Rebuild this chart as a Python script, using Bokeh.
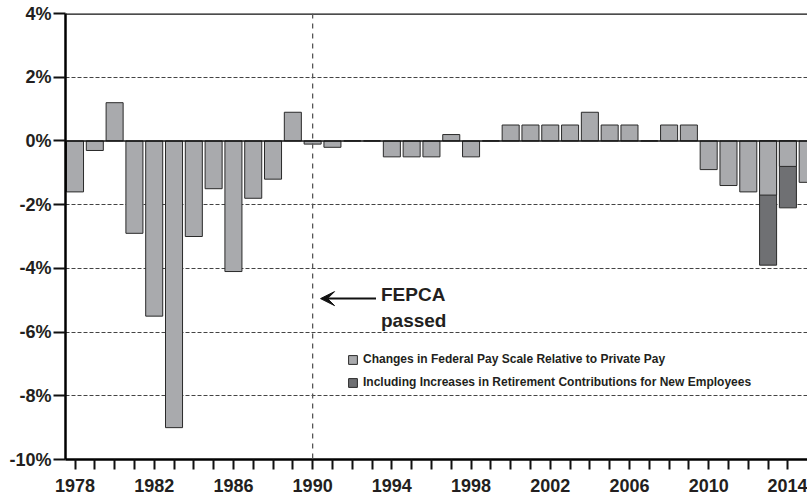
from bokeh.plotting import figure
from bokeh.models import FixedTicker, Span, Arrow, VeeHead, Legend, LegendItem, ColumnDataSource
from bokeh.core.properties import value
from bokeh.embed import file_html
from bokeh.resources import INLINE

# ---- data ----
years = list(range(1978, 2016))
pay_change = [-1.6, -0.3, 1.2, -2.9, -5.5, -9.0, -3.0, -1.5, -4.1, -1.8,
              -1.2, 0.9, -0.1, -0.2, 0.0, 0.0, -0.5, -0.5, -0.5, 0.2,
              -0.5, 0.0, 0.5, 0.5, 0.5, 0.5, 0.9, 0.5, 0.5, 0.0,
              0.5, 0.5, -0.9, -1.4, -1.6, -1.7, -0.8, -1.3]
retire_years = [2013, 2014]
retire_change = [-3.9, -2.1]

y_ticks = [4, 2, 0, -2, -4, -6, -8, -10]
y_tick_labels = ["4%", "2%", "0%", "-2%", "-4%", "-6%", "-8%", "-10%"]
x_label_years = list(range(1978, 2016, 4))

label_light = "Changes in Federal Pay Scale Relative to Private Pay"
label_dark = "Including Increases in Retirement Contributions for New Employees"

fepca_year = 1990
note_lines = ["FEPCA", "passed"]

FONT = "Liberation Sans"
TXT = "#231f20"
LIGHT = "#a9aaad"
DARK = "#6f7073"

p = figure(width=807, height=497, output_backend="svg", toolbar_location=None,
           x_range=(1977.52, 2014.99), y_range=(-10, 4),
           min_border_left=65, min_border_right=0, min_border_top=13, min_border_bottom=38)
p.outline_line_color = None
p.background_fill_color = "white"

# grid
p.xgrid.grid_line_color = None
p.ygrid.ticker = FixedTicker(ticks=[t for t in y_ticks if t not in (0, 4)])
p.ygrid.grid_line_color = "#444444"
p.ygrid.grid_line_dash = "4 2"
p.ygrid.grid_line_width = 1

# bars
dark_src = ColumnDataSource(dict(x=retire_years, top=retire_change))
dark = p.vbar(x="x", top="top", bottom=0, width=0.86, source=dark_src,
              fill_color=DARK, line_color="#2a2a2a", line_width=1)
light_src = ColumnDataSource(dict(x=years, top=pay_change))
light = p.vbar(x="x", top="top", bottom=0, width=0.86, source=light_src,
               fill_color=LIGHT, line_color="#2a2a2a", line_width=1)

# zero line, top border, FEPCA line
p.add_layout(Span(location=0, dimension="width", line_color="#111111", line_width=1.5))
p.add_layout(Span(location=4, dimension="width", line_color="#111111", line_width=2.5))
p.add_layout(Span(location=fepca_year, dimension="height", line_color="#555555",
                  line_width=1.3, line_dash="5 5"))

# annotation
p.text(x=[1993.45, 1993.45], y=[-4.81, -5.64], text=note_lines,
       text_font=value(FONT), text_font_style="bold", text_font_size="19px",
       text_color=TXT, text_align="left", text_baseline="alphabetic")
p.add_layout(Arrow(end=VeeHead(size=14, fill_color="#111111", line_color="#111111"),
                   x_start=1993.2, y_start=-4.95, x_end=1990.4, y_end=-4.95,
                   line_color="#111111", line_width=2))

# axes
xa = p.xaxis[0]
xa.ticker = FixedTicker(ticks=years, minor_ticks=[])
xa.major_label_overrides = {y: (str(y) if y in x_label_years else "") for y in years}
xa.axis_line_width = 2.5
xa.axis_line_color = "#000000"
xa.major_tick_line_width = 2
xa.major_tick_line_color = "#111111"
xa.major_tick_out = 10
xa.major_tick_in = 0
xa.major_label_standoff = 9
xa.major_label_text_font = FONT
xa.major_label_text_font_style = "bold"
xa.major_label_text_font_size = "18px"
xa.major_label_text_color = TXT

ya = p.yaxis[0]
ya.ticker = FixedTicker(ticks=y_ticks, minor_ticks=[])
ya.major_label_overrides = dict(zip(y_ticks, y_tick_labels))
ya.axis_line_width = 2.5
ya.axis_line_color = "#000000"
ya.major_tick_line_width = 2
ya.major_tick_line_color = "#111111"
ya.major_tick_out = 12
ya.major_tick_in = 0
ya.major_label_standoff = 2
ya.major_label_text_font = FONT
ya.major_label_text_font_style = "bold"
ya.major_label_text_font_size = "18px"
ya.major_label_text_color = TXT

# legend
legend = Legend(items=[LegendItem(label=label_light, renderers=[light]),
                       LegendItem(label=label_dark, renderers=[dark])],
                location=(282, 70), padding=0, margin=0, spacing=9,
                glyph_width=11, glyph_height=11, label_height=11, label_standoff=5,
                label_text_font=FONT, label_text_font_style="bold",
                label_text_font_size="12px", label_text_color=TXT,
                border_line_color=None, background_fill_alpha=0)
p.add_layout(legend)

open("out.html", "w").write(file_html(p, INLINE))
